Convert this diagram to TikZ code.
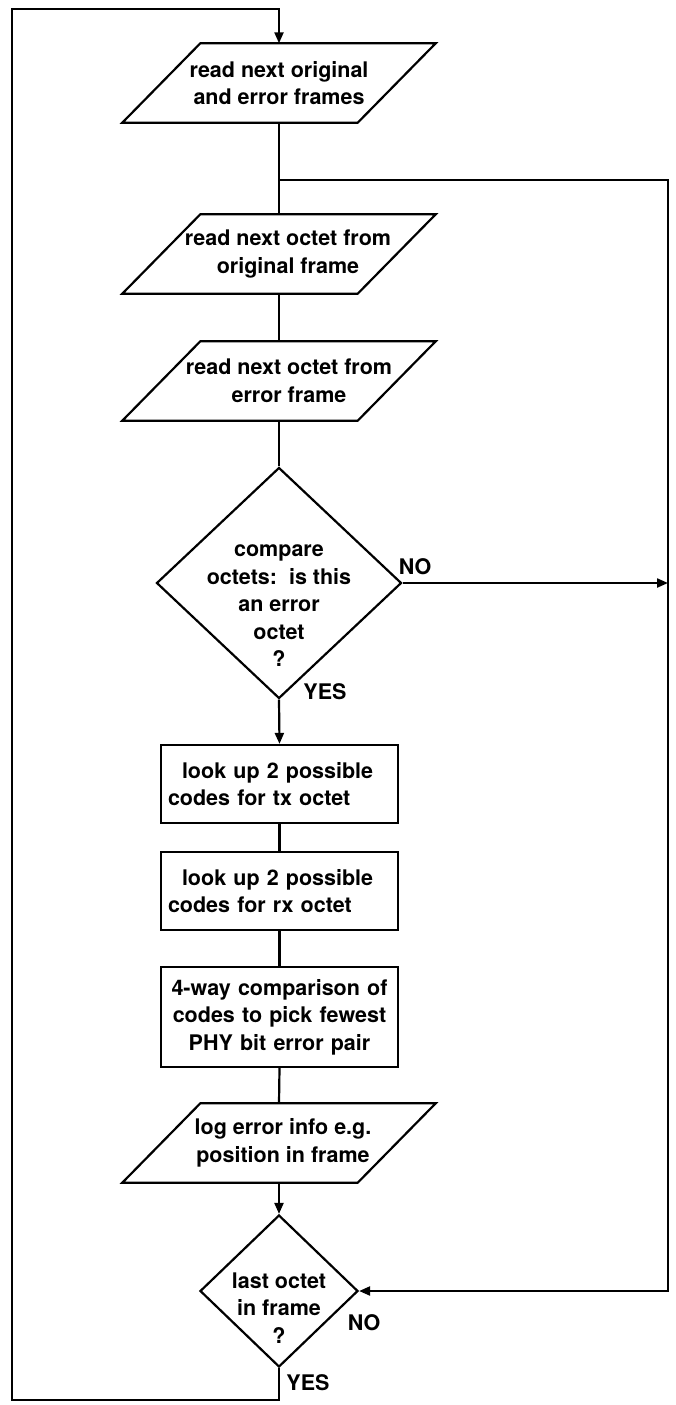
\documentclass[tikz,border=0pt]{standalone}
\usepackage{fontspec}
\setmainfont{TeX Gyre Heros}
\usetikzlibrary{shapes.geometric,arrows.meta}
\newcommand{\ioframe}[1]{%
  \draw[flowline] ([xshift=-39pt]#1.south west) -- ([xshift=-39pt]#1.south east)
    -- ([xshift=39pt]#1.north east) -- ([xshift=39pt]#1.north west) -- cycle;}
\begin{document}
\begin{tikzpicture}[x=1pt, y=-1pt,
  every node/.style={font=\fontsize{21.5}{27.5}\selectfont\bfseries},
  flowline/.style={line width=2.2pt, line join=miter},
  arrow/.style={flowline, -{Triangle[length=11pt,width=9pt]}},
  iobox/.style={minimum width=235pt, minimum height=79pt, inner sep=0pt, align=center},
  procbox/.style={draw, flowline, minimum width=237pt, minimum height=78pt,
    inner xsep=7pt, text width=223pt, align=left},
  decision/.style={diamond, draw, flowline, inner sep=0pt}]
  \useasboundingbox (0,0) rectangle (676,1405);
  % reading frames and octets
  \node[iobox] (readframes) at (279,83) {read next original\\and error frames};
  \node[iobox] (readorig) at (279,254)
    {\hspace*{18pt}read next octet from\\\hspace*{18pt}original frame};
  \node[iobox] (readerr) at (279,381)
    {\hspace*{20pt}read next octet from\\\hspace*{20pt}error frame};
  % error test
  \node[decision, minimum width=245pt, minimum height=231pt] (cmp) at (279,583) {};
  \node[align=center] (cmptext) at (279,606) {compare\\octets:\ \ is this\\an error\\octet\\?};
  % code lookup and comparison
  \node[procbox] (txcodes) at (279.5,784) {\hspace*{14pt}look up 2 possible\\codes for tx octet};
  \node[procbox] (rxcodes) at (279.5,891) {\hspace*{14pt}look up 2 possible\\codes for rx octet};
  \node[procbox, minimum height=100pt, align=center] (pick) at (279.5,1017)
    {4-way comparison of\\codes to pick fewest\\PHY bit error pair};
  \node[iobox] (logerr) at (279,1143)
    {\hspace*{8pt}log error info e.g.\\\hspace*{8pt}position in frame};
  \foreach \n in {readframes,readorig,readerr,logerr} \ioframe{\n};
  % end of frame test
  \node[decision, minimum width=158pt, minimum height=152pt] (last) at (279,1291) {};
  \node[align=center] (lasttext) at (279,1308) {last octet\\in frame\\?};
  % branch labels
  \node (cmpno) at (415,567) {NO};
  \node (cmpyes) at (325,692) {YES};
  \node (lastno) at (364,1323) {NO};
  \node (lastyes) at (308,1383) {YES};
  % connectors
  \coordinate (split) at (279,180);
  \coordinate (rtop) at (668,180);
  \coordinate (lbot) at (12,1400);
  \coordinate (ltop) at (12,9);
  \draw[flowline] (readframes.south) -- (readorig.north);
  \draw[flowline] (readorig.south) -- (readerr.north);
  \draw[flowline] (readerr.south) -- (cmp.north);
  \draw[arrow] (cmp.south) -- (txcodes.north);
  \draw[flowline] (txcodes.south) -- (rxcodes.north);
  \draw[flowline] (rxcodes.south) -- (pick.north);
  \draw[flowline] (pick.south) -- (logerr.north);
  \draw[arrow] (logerr.south) -- (last.north);
  \draw[arrow] (cmp.east) -- (cmp.east -| rtop);
  \draw[arrow] (split) -- (rtop) |- (last.east);
  \draw[arrow] (last.south) |- (lbot) -- (ltop) -| (readframes.north);
\end{tikzpicture}
\end{document}
